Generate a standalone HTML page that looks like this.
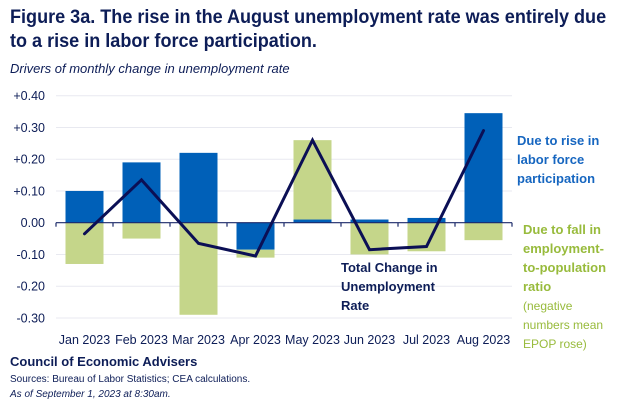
<!DOCTYPE html>
<html><head><meta charset="utf-8"><style>
body{margin:0;width:624px;height:413px;background:#fff;font-family:"Liberation Sans",sans-serif;overflow:hidden;position:relative}
.t{position:absolute;white-space:nowrap}
</style></head><body>
<div class="t" style="left:10px;top:6px;font-size:19px;font-weight:bold;color:#0d1d57;line-height:24px;transform:scaleX(0.95);transform-origin:0 0">Figure 3a. The rise in the August unemployment rate was entirely due<br>to a rise in labor force participation.</div>
<div class="t" style="left:10px;top:61px;font-size:13px;font-style:italic;color:#0d1d57">Drivers of monthly change in unemployment rate</div>
<svg id="c" width="624" height="413" style="position:absolute;left:0;top:0"></svg>
<div class="t" style="left:517px;top:131px;font-size:13px;font-weight:bold;color:#1666c0;line-height:19px">Due to rise in<br>labor force<br>participation</div>
<div class="t" style="left:523px;top:220px;font-size:13px;font-weight:bold;color:#98bb3c;line-height:19px">Due to fall in<br>employment-<br>to-population<br>ratio<br><span style="font-weight:normal;font-size:12px;line-height:18px">(negative<br>numbers mean<br>EPOP rose)</span></div>
<div class="t" style="left:341px;top:258px;font-size:13px;font-weight:bold;color:#0d1d57;line-height:19px">Total Change in<br>Unemployment<br>Rate</div>
<div class="t" style="left:10px;top:354px;font-size:13px;font-weight:bold;color:#0d1d57">Council of Economic Advisers</div>
<div class="t" style="left:10px;top:374px;font-size:10px;color:#0d1d57">Sources: Bureau of Labor Statistics; CEA calculations.</div>
<div class="t" style="left:10px;top:389px;font-size:10px;font-style:italic;color:#0d1d57">As of September 1, 2023 at 8:30am.</div>
<script>
const categories=["Jan 2023","Feb 2023","Mar 2023","Apr 2023","May 2023","Jun 2023","Jul 2023","Aug 2023"];
const lfpValues=[0.10,0.19,0.22,-0.085,0.01,0.01,0.015,0.345];
const epopValues=[-0.13,-0.05,-0.29,-0.025,0.25,-0.10,-0.09,-0.055];
const totalValues=[-0.035,0.135,-0.065,-0.105,0.26,-0.085,-0.075,0.29];
const yTicks=[0.4,0.3,0.2,0.1,0,-0.1,-0.2,-0.3];
const tickLabels=["+0.40","+0.30","+0.20","+0.10","0.00","-0.10","-0.20","-0.30"];
const NS="http://www.w3.org/2000/svg",svg=document.getElementById('c');
const x0=56,step=57,bw=38;
const y=v=>222.7-v*317.5;
const xc=i=>x0+step*(i+0.5);
function mk(t,a){const e=document.createElementNS(NS,t);for(const k in a)e.setAttribute(k,a[k]);svg.appendChild(e);return e;}
yTicks.forEach((v,i)=>{
 if(v!==0){const g=mk('line',{x1:x0,x2:x0+step*8,y1:y(v),y2:y(v),stroke:'#e8e9f0','stroke-width':1});
 
 }
 const t=mk('text',{x:45,y:y(v)+4.5,'text-anchor':'end','font-size':'12.5','fill':'#0d1d57','font-family':'Liberation Sans'});
 t.textContent=tickLabels[i];
 
 
});
categories.forEach((c,i)=>{
 let pos=0,neg=0;
 [[lfpValues[i],'#0060b8','bar-lfp'],[epopValues[i],'#c5d68a','bar-epop']].forEach(([v,col,nm])=>{
  let a,b;
  if(v>=0){a=pos;b=pos+v;pos=b;}else{a=neg;b=neg+v;neg=b;}
  const r=mk('rect',{x:xc(i)-bw/2,y:Math.min(y(a),y(b)),width:bw,height:Math.abs(y(a)-y(b)),fill:col});
  
  
 });
 const t=mk('text',{x:xc(i),y:344,'text-anchor':'middle','font-size':'12.5','fill':'#0d1d57','font-family':'Liberation Sans'});
 t.textContent=c;
 
 
});
const ax=mk('line',{x1:x0,x2:x0+step*8,y1:y(0),y2:y(0),stroke:'#1c2a6a','stroke-width':1.2});


for(let i=0;i<=8;i++){const tk=mk('line',{x1:x0+step*i,x2:x0+step*i,y1:y(0),y2:y(0)+4,stroke:'#1c2a6a','stroke-width':1.2});

}
const pl=mk('polyline',{points:totalValues.map((v,i)=>xc(i)+','+y(v)).join(' '),fill:'none',stroke:'#0b0f55','stroke-width':3,'stroke-linejoin':'miter','stroke-linecap':'round'});


</script>
</body></html>
